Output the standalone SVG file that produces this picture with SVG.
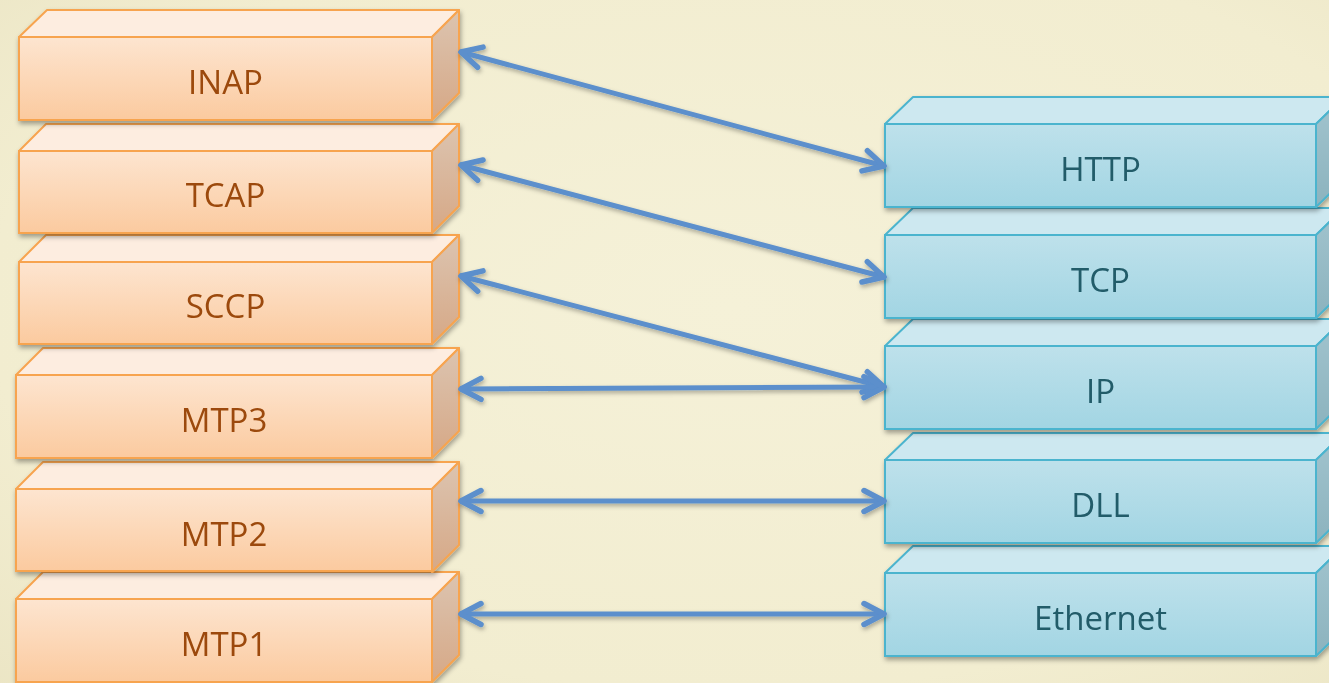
<svg xmlns="http://www.w3.org/2000/svg" width="1329" height="683" viewBox="0 0 1329 683">
<defs>
<radialGradient id="bg" cx="0.55" cy="0.45" r="0.8">
<stop offset="0" stop-color="#F5F1D8"/>
<stop offset="0.7" stop-color="#F2EDD0"/>
<stop offset="1" stop-color="#EBE5C4"/>
</radialGradient>
<linearGradient id="oFront" x1="0" y1="0" x2="0" y2="1">
<stop offset="0" stop-color="#FDE5D0"/>
<stop offset="1" stop-color="#FBCA9F"/>
</linearGradient>
<linearGradient id="oSide" x1="0" y1="0" x2="0" y2="1">
<stop offset="0" stop-color="#DCC4B0"/>
<stop offset="1" stop-color="#D6A886"/>
</linearGradient>
<linearGradient id="bFront" x1="0" y1="0" x2="0" y2="1">
<stop offset="0" stop-color="#BEE1EB"/>
<stop offset="1" stop-color="#A2D5E3"/>
</linearGradient>
<linearGradient id="bSide" x1="0" y1="0" x2="0" y2="1">
<stop offset="0" stop-color="#A2C4CE"/>
<stop offset="1" stop-color="#8CB3BE"/>
</linearGradient>
<filter id="sh" x="-10%" y="-20%" width="120%" height="150%">
<feDropShadow dx="1" dy="3" stdDeviation="2.5" flood-color="#000" flood-opacity="0.35"/>
</filter>
<filter id="ash" x="-10%" y="-50%" width="120%" height="200%">
<feDropShadow dx="1" dy="2.5" stdDeviation="2" flood-color="#000" flood-opacity="0.3"/>
</filter>
<marker id="arr" markerUnits="userSpaceOnUse" viewBox="-25 -15 30 30" markerWidth="30" markerHeight="30" refX="0" refY="0" orient="auto-start-reverse" overflow="visible">
<path d="M-20,-10.5 L0,0 L-20,10.5" fill="none" stroke="#5B8FCC" stroke-width="5.5" stroke-linecap="round" stroke-linejoin="round"/>
</marker>
</defs>
<style>
.o .front{fill:url(#oFront);stroke:#F7A44F;stroke-width:2}
.o .top{fill:#FDEDE0;stroke:#F7A44F;stroke-width:2;stroke-linejoin:round}
.o .side{fill:url(#oSide);stroke:#F7A44F;stroke-width:2;stroke-linejoin:round}
.b .front{fill:url(#bFront);stroke:#4CB4CE;stroke-width:2}
.b .top{fill:#CDE8F0;stroke:#4CB4CE;stroke-width:2;stroke-linejoin:round}
.b .side{fill:url(#bSide);stroke:#4CB4CE;stroke-width:2;stroke-linejoin:round}
.box{filter:url(#sh)}
text{font-family:"Open Sans","DejaVu Sans",sans-serif;font-size:33px;text-anchor:middle}
.o text{fill:#9C4A0C}
.b text{fill:#215B69}
.conn line{stroke:#5B8FCC;stroke-width:5;stroke-linecap:round;marker-start:url(#arr);marker-end:url(#arr)}
</style>
<rect x="0" y="0" width="1329" height="683" fill="url(#bg)"/>

<!-- left stack (drawn bottom-up so shadows fall on lower boxes) -->
<g id="mtp1" class="o box">
<polygon class="top" points="16,599 43,572 459,572 432,599"/>
<polygon class="side" points="432,599 459,572 459,655 432,682"/>
<rect class="front" x="16" y="599" width="416" height="83"/>
<text x="224" y="656">MTP1</text>
</g>
<g id="mtp2" class="o box">
<polygon class="top" points="16,489 43,462 459,462 432,489"/>
<polygon class="side" points="432,489 459,462 459,545 432,572"/>
<rect class="front" x="16" y="489" width="416" height="82"/>
<text x="224" y="546">MTP2</text>
</g>
<g id="mtp3" class="o box">
<polygon class="top" points="16,375 43,348 459,348 432,375"/>
<polygon class="side" points="432,375 459,348 459,431 432,458"/>
<rect class="front" x="16" y="375" width="416" height="83"/>
<text x="224" y="432">MTP3</text>
</g>
<g id="sccp" class="o box">
<polygon class="top" points="19,262 46,235 459,235 432,262"/>
<polygon class="side" points="432,262 459,235 459,317 432,344"/>
<rect class="front" x="19" y="262" width="413" height="82"/>
<text x="225.5" y="318">SCCP</text>
</g>
<g id="tcap" class="o box">
<polygon class="top" points="19,151 46,124 459,124 432,151"/>
<polygon class="side" points="432,151 459,124 459,206 432,233"/>
<rect class="front" x="19" y="151" width="413" height="82"/>
<text x="225.5" y="207">TCAP</text>
</g>
<g id="inap" class="o box">
<polygon class="top" points="19,37 47,10 459,10 432,37"/>
<polygon class="side" points="432,37 459,10 459,93 432,120"/>
<rect class="front" x="19" y="37" width="413" height="83"/>
<text x="225.5" y="94">INAP</text>
</g>

<!-- right stack -->
<g id="ethernet" class="b box">
<polygon class="top" points="885,573 913,546 1344,546 1316,573"/>
<polygon class="side" points="1316,573 1344,546 1344,629 1316,656"/>
<rect class="front" x="885" y="573" width="431" height="83"/>
<text x="1100.5" y="630">Ethernet</text>
</g>
<g id="dll" class="b box">
<polygon class="top" points="885,460 913,433 1344,433 1316,460"/>
<polygon class="side" points="1316,460 1344,433 1344,516 1316,543"/>
<rect class="front" x="885" y="460" width="431" height="83"/>
<text x="1100.5" y="517">DLL</text>
</g>
<g id="ip" class="b box">
<polygon class="top" points="885,346 913,319 1344,319 1316,346"/>
<polygon class="side" points="1316,346 1344,319 1344,402 1316,429"/>
<rect class="front" x="885" y="346" width="431" height="83"/>
<text x="1100.5" y="403">IP</text>
</g>
<g id="tcp" class="b box">
<polygon class="top" points="885,235 913,208 1344,208 1316,235"/>
<polygon class="side" points="1316,235 1344,208 1344,291 1316,318"/>
<rect class="front" x="885" y="235" width="431" height="83"/>
<text x="1100.5" y="292">TCP</text>
</g>
<g id="http" class="b box">
<polygon class="top" points="885,124 913,97 1344,97 1316,124"/>
<polygon class="side" points="1316,124 1344,97 1344,180 1316,207"/>
<rect class="front" x="885" y="124" width="431" height="83"/>
<text x="1100.5" y="181">HTTP</text>
</g>

<g id="connectors" class="conn" filter="url(#ash)">
<line x1="461" y1="52" x2="884" y2="166"/>
<line x1="461" y1="165" x2="884" y2="277"/>
<line x1="461" y1="276" x2="884" y2="387"/>
<line x1="461" y1="389" x2="884" y2="387"/>
<line x1="461" y1="501" x2="884" y2="501"/>
<line x1="461" y1="614" x2="884" y2="614"/>
</g>
</svg>
